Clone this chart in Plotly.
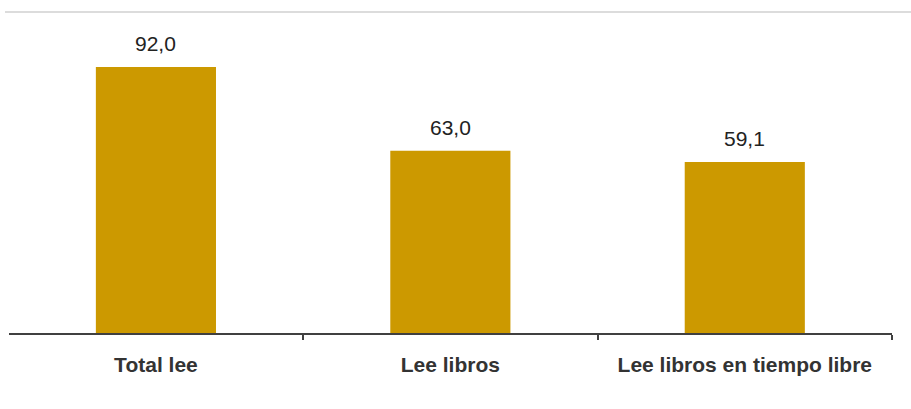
import plotly.graph_objects as go

# Share of readers (%)
categories = ["Total lee", "Lee libros", "Lee libros en tiempo libre"]
values = [92.0, 63.0, 59.1]

bar_color = "#CC9900"
font_family = "Liberation Sans, Arial, sans-serif"

fig = go.Figure()
fig.add_trace(go.Bar(
    x=categories,
    y=values,
    marker=dict(color=bar_color, line=dict(width=0)),
    hoverinfo="skip",
))

# Value labels above each bar
for cat, val in zip(categories, values):
    fig.add_annotation(
        x=cat, y=val,
        text=f"{val:.1f}".replace(".", ","),
        showarrow=False,
        yanchor="bottom",
        yshift=10,
        font=dict(family=font_family, size=21, color="#222222"),
    )

# Light rule across the top
fig.add_shape(
    type="line", xref="paper", yref="paper",
    x0=-0.0045, x1=1.0215, y0=1.0, y1=1.0,
    line=dict(color="#dcdcdc", width=2),
)

fig.update_layout(
    width=911, height=409,
    margin=dict(l=9, r=19, t=12, b=76),
    paper_bgcolor="white",
    plot_bgcolor="white",
    bargap=0.592,
    showlegend=False,
    xaxis=dict(
        range=[-0.499, 2.5],
        showline=True, linecolor="#404040", linewidth=2,
        ticks="outside", tickson="boundaries", ticklen=5,
        tickcolor="#404040", tickwidth=2,
        ticklabelstandoff=12,
        tickfont=dict(family=font_family, size=21, color="#333333", weight="bold"),
        showgrid=False, zeroline=False, fixedrange=True,
    ),
    yaxis=dict(
        range=[0, 111.0],
        visible=False, showgrid=False, zeroline=False, fixedrange=True,
    ),
)

fig.write_html("out.html")
